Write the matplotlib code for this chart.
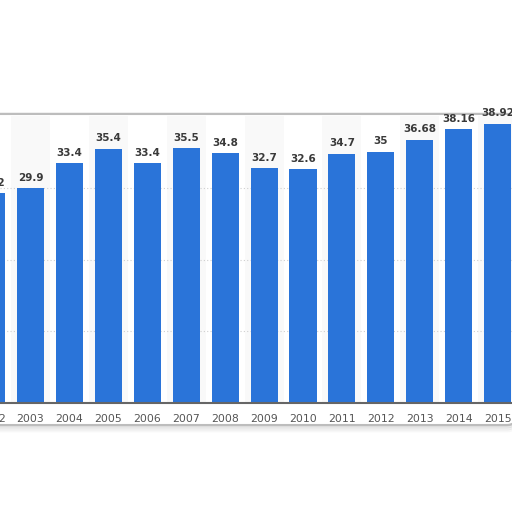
import matplotlib.pyplot as plt
from matplotlib.patches import FancyBboxPatch, Rectangle

years = [2002, 2003, 2004, 2005, 2006, 2007, 2008, 2009, 2010, 2011, 2012, 2013, 2014, 2015]
values = [29.2, 29.9, 33.4, 35.4, 33.4, 35.5, 34.8, 32.7, 32.6, 34.7, 35, 36.68, 38.16, 38.92]
labels = ['29.2', '29.9', '33.4', '35.4', '33.4', '35.5', '34.8', '32.7', '32.6', '34.7', '35', '36.68', '38.16', '38.92']

blue = '#2a74d9'

fig = plt.figure(figsize=(5.12, 5.12), dpi=100)
fig.patch.set_facecolor('white')

# frame with shadow (pixel positions converted to figure fractions)
for i, a in enumerate([0.12, 0.08, 0.05, 0.03]):
    fig.patches.append(FancyBboxPatch((-0.03, (512 - 425 - 2 * i) / 512), 1.04, (425 - 114) / 512,
                                      boxstyle='round,pad=0,rounding_size=0.02',
                                      transform=fig.transFigure, facecolor='none',
                                      edgecolor=(0, 0, 0, a), lw=2, zorder=-3))
fig.patches.append(FancyBboxPatch((-0.03, (512 - 425) / 512), 1.04, (425 - 114) / 512,
                                  boxstyle='round,pad=0,rounding_size=0.02',
                                  transform=fig.transFigure, facecolor='white',
                                  edgecolor='#bdbdbd', lw=1.5, zorder=-2))

ax = fig.add_axes([0, (512 - 403) / 512, 1, (403 - 116) / 512])
ax.set_zorder(1)
ax.set_facecolor('none')

# alternating column bands
for y in years:
    if y % 2 == 1:
        ax.add_patch(Rectangle((y - 0.5, 0), 1, 40, facecolor='#f9f9f9', edgecolor='none', zorder=0))

ax.bar(years, values, width=0.695, color=blue, zorder=2)

for x, v, t in zip(years, values, labels):
    ax.annotate(t, (x, v), xytext=(0, 4), textcoords='offset points', ha='center', va='bottom',
                fontsize=7.5, fontweight='bold', color='#3a3a3a', annotation_clip=False, zorder=3)
    # year labels under the axis (drawn by hand so the cut-off 2002 shows too)
    ax.annotate(str(x), (x, 0), xycoords=ax.get_xaxis_transform(), xytext=(0, -8),
                textcoords='offset points', ha='center', va='top', fontsize=7.8,
                color='#555555', annotation_clip=False)

ax.set_yticks([10, 20, 30])
ax.yaxis.grid(True, linestyle=(0, (1, 2)), color='#cfcfcf', lw=0.8, zorder=1)
ax.tick_params(axis='y', left=False, labelleft=False)
ax.set_xticks([])
ax.set_xlim(2002.216, 2015.37)
ax.set_ylim(0, 40)
for s in ['top', 'left', 'right']:
    ax.spines[s].set_visible(False)
ax.spines['bottom'].set_color('#666666')
ax.spines['bottom'].set_linewidth(1.5)
ax.spines['bottom'].set_zorder(4)

fig.savefig('out.png', dpi=100)
